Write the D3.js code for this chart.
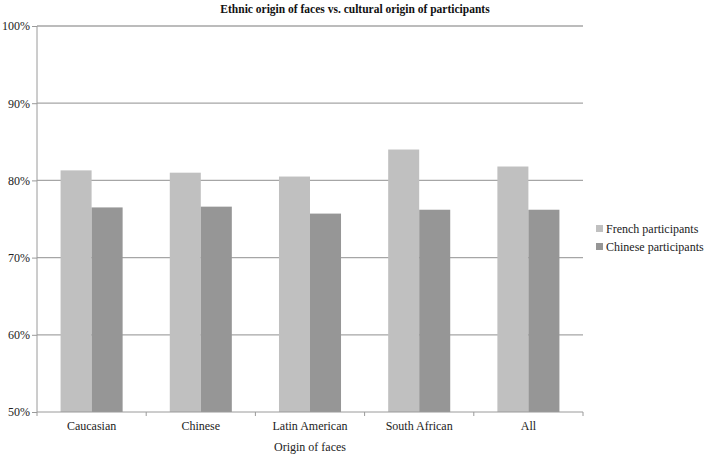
<!DOCTYPE html>
<html>
<head>
<meta charset="utf-8">
<script src="https://cdn.jsdelivr.net/npm/d3@7"></script>
<style>
  body { margin: 0; background: #fff; }
  svg text { font-family: "Liberation Serif", "Times New Roman", serif; }
  .axis path, .axis line { stroke: #9a9a9a; }
  .axis text { fill: #222; font-size: 12px; }
  .grid line { stroke: #a6a6a6; stroke-width: 1.3; }
</style>
</head>
<body>
<div id="content"></div>
<script>
// Data (percent correct)
var categories = ["Caucasian", "Chinese", "Latin American", "South African", "All"];
var seriesNames = ["French participants", "Chinese participants"];
var frenchValues = [81.3, 81.0, 80.5, 84.0, 81.8];
var chineseValues = [76.5, 76.6, 75.7, 76.2, 76.2];
var yTicks = [50, 60, 70, 80, 90, 100];
var seriesColors = ["#c0c0c0", "#969696"];

var svgWidth = 708, svgHeight = 457;
var margin = { top: 26, right: 125, bottom: 45, left: 37 },
    chartWidth = svgWidth - margin.left - margin.right,
    chartHeight = svgHeight - margin.top - margin.bottom;

var svg = d3.select("#content").append("svg")
    .attr("width", svgWidth)
    .attr("height", svgHeight);

var chart = svg.append("g")
    .attr("transform", "translate(" + margin.left + "," + margin.top + ")");

// Scales
var xScale = d3.scaleBand()
    .domain(categories)
    .range([0, chartWidth])
    .paddingInner(0)
    .paddingOuter(0);

var groupScale = d3.scaleBand()
    .domain(seriesNames)
    .range([0, xScale.bandwidth()])
    .paddingInner(0)
    .paddingOuter(0.76);

var yScale = d3.scaleLinear()
    .domain([50, 100])
    .range([chartHeight, 0]);

// Gridlines
chart.append("g")
    .attr("class", "grid")
    .selectAll("line")
    .data(yTicks.slice(1))
    .enter().append("line")
    .attr("x1", 0)
    .attr("x2", chartWidth)
    .attr("y1", function (d) { return yScale(d); })
    .attr("y2", function (d) { return yScale(d); });

// Bars
var rows = categories.map(function (c, i) {
    return { category: c, values: [frenchValues[i], chineseValues[i]] };
});

var groups = chart.selectAll(".bar-group")
    .data(rows)
    .enter().append("g")
    .attr("class", "bar-group")
    .attr("transform", function (d) { return "translate(" + xScale(d.category) + ",0)"; });

groups.selectAll("rect")
    .data(function (d) { return d.values.map(function (v, j) { return { name: seriesNames[j], value: v, idx: j }; }); })
    .enter().append("rect")
    .attr("x", function (d) { return groupScale(d.name); })
    .attr("width", groupScale.bandwidth())
    .attr("y", function (d) { return yScale(d.value); })
    .attr("height", function (d) { return chartHeight - yScale(d.value); })
    .attr("fill", function (d) { return seriesColors[d.idx]; });

// Y axis
var yAxis = d3.axisLeft(yScale)
    .tickValues(yTicks)
    .tickSize(5)
    .tickPadding(2)
    .tickFormat(function (d) { return d + "%"; });

chart.append("g")
    .attr("class", "y axis")
    .call(yAxis)
    .call(function (g) { g.select(".domain").attr("d", "M0," + chartHeight + "V0"); });

// X axis with tick marks at category boundaries
var xAxisG = chart.append("g")
    .attr("class", "x axis")
    .attr("transform", "translate(0," + chartHeight + ")");

xAxisG.append("line")
    .attr("x1", 0).attr("x2", chartWidth)
    .attr("y1", 0).attr("y2", 0)
    .attr("stroke", "#9a9a9a");

var boundaries = categories.map(function (c) { return xScale(c); }).concat([chartWidth]);
xAxisG.selectAll(".tick-mark")
    .data(boundaries)
    .enter().append("line")
    .attr("class", "tick-mark")
    .attr("x1", function (d) { return d; })
    .attr("x2", function (d) { return d; })
    .attr("y1", 0).attr("y2", 4)
    .attr("stroke", "#9a9a9a");

xAxisG.selectAll(".cat-label")
    .data(categories)
    .enter().append("text")
    .attr("class", "cat-label")
    .attr("x", function (d) { return xScale(d) + xScale.bandwidth() / 2; })
    .attr("y", 18)
    .attr("text-anchor", "middle")
    .text(function (d) { return d; });

// Axis title
svg.append("text")
    .attr("x", margin.left + chartWidth / 2)
    .attr("y", 451)
    .attr("text-anchor", "middle")
    .attr("font-size", 12)
    .attr("fill", "#222")
    .text("Origin of faces");

// Chart title
svg.append("text")
    .attr("x", 355)
    .attr("y", 13)
    .attr("text-anchor", "middle")
    .attr("font-size", 11.5)
    .attr("font-weight", "bold")
    .attr("fill", "#111")
    .text("Ethnic origin of faces vs. cultural origin of participants");

// Legend
var legend = svg.append("g")
    .attr("transform", "translate(596,225)");

var legendItems = legend.selectAll(".legend-item")
    .data(seriesNames)
    .enter().append("g")
    .attr("class", "legend-item")
    .attr("transform", function (d, i) { return "translate(0," + (i * 18) + ")"; });

legendItems.append("rect")
    .attr("width", 7)
    .attr("height", 7)
    .attr("y", 0)
    .attr("fill", function (d, i) { return seriesColors[i]; });

legendItems.append("text")
    .attr("x", 10)
    .attr("y", 8)
    .attr("font-size", 12)
    .attr("fill", "#222")
    .text(function (d) { return d; });
</script>
</body>
</html>
